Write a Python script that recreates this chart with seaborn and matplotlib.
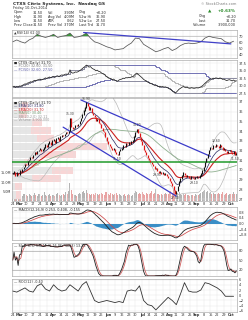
import numpy as np
import pandas as pd
import seaborn as sns
import matplotlib
matplotlib.use("Agg")
import matplotlib.pyplot as plt

# daily closes (24 Feb - 10 Oct)
close = [
    29.6, 29.8, 29.4, 29.7, 29.5, 29.9, 29.8, 30.1, 30.3, 30.6,
    30.5, 30.9, 31.0, 31.3, 31.2, 31.5, 31.8, 31.6, 31.9, 32.0,
    32.2, 31.9, 32.1, 32.3, 32.6, 32.4, 32.7, 32.9, 32.6, 33.0,
    33.1, 32.8, 33.2, 33.3, 33.0, 33.4, 33.6, 33.5, 33.7, 33.9,
    33.8, 34.0, 35.3, 34.4, 34.2, 34.3, 34.6, 34.5, 34.7, 35.0,
    35.3, 35.7, 36.1, 36.4, 36.9, 36.6, 36.2, 36.4, 35.9, 35.6,
    35.4, 35.0, 35.2, 34.8, 34.7, 34.3, 34.0, 33.9, 33.4, 33.0,
    32.7, 32.5, 32.3, 32.0, 32.2, 31.8, 31.6, 31.5, 31.9, 32.1,
    32.2, 32.5, 32.4, 32.7, 32.6, 32.8, 32.7, 32.9, 33.0, 33.4,
    33.9, 34.2, 33.8, 33.4, 33.0, 32.6, 32.1, 31.8, 31.5, 31.2,
    31.0, 30.8, 30.6, 30.4, 30.1, 30.2, 29.9, 29.7, 29.8, 29.6,
    29.7, 29.5, 29.6, 29.4, 29.2, 28.9, 28.7, 28.3, 27.9, 27.5,
    27.8, 28.3, 28.8, 29.1, 29.4, 29.7, 29.5, 29.3, 29.4, 29.2,
    29.1, 29.3, 29.2, 29.1, 29.2, 29.3, 29.2, 29.4, 29.6, 29.9,
    30.3, 30.8, 31.2, 31.6, 32.0, 32.3, 32.2, 32.5, 32.4, 32.6,
    32.5, 32.3, 32.6, 32.4, 32.1, 32.2, 31.9, 31.7, 31.9, 32.0,
    31.8, 31.6, 31.9, 31.5, 31.7,
]

# daily volume, millions
volume = [
    4.1, 3.2, 3.8, 2.9, 3.5, 4.4, 3.1, 2.8, 3.6, 4.0,
    3.3, 2.7, 3.9, 3.0, 2.6, 3.4, 4.2, 3.1, 2.9, 3.5,
    3.8, 2.8, 3.2, 4.6, 3.0, 2.7, 3.3, 3.9, 2.8, 3.1,
    3.4, 2.9, 3.7, 4.5, 3.2, 2.8, 3.0, 3.6, 3.3, 4.8,
    3.9, 5.2, 9.5, 5.8, 3.6, 3.1, 3.4, 2.9, 3.8, 4.1,
    3.5, 4.7, 5.3, 4.2, 6.1, 4.4, 3.8, 3.3, 4.0, 3.6,
    3.2, 4.4, 3.7, 3.1, 3.5, 4.3, 3.9, 3.0, 4.6, 5.0,
    3.8, 3.4, 4.1, 3.6, 3.0, 3.9, 4.4, 3.2, 3.5, 3.1,
    2.8, 3.3, 3.7, 2.9, 3.2, 3.6, 3.0, 2.7, 3.4, 4.2,
    5.1, 4.6, 3.9, 4.3, 3.6, 4.8, 3.7, 3.2, 4.1, 3.5,
    3.9, 4.4, 5.6, 3.8, 4.2, 6.4, 3.6, 4.0, 3.4, 3.9,
    3.1, 3.6, 4.3, 3.5, 4.0, 4.7, 5.2, 4.5, 5.9, 7.2,
    5.3, 4.1, 4.6, 3.8, 3.4, 3.9, 3.2, 3.6, 3.0, 3.3,
    2.9, 3.4, 3.1, 2.7, 3.5, 3.0, 3.2, 3.8, 4.1, 4.6,
    5.4, 6.0, 4.9, 5.1, 4.3, 4.7, 3.9, 4.4, 3.6, 4.0,
    3.7, 4.2, 3.5, 3.9, 4.6, 3.4, 3.8, 4.5, 3.3, 3.6,
    4.0, 3.5, 4.8, 3.7, 3.9,
]

# RSI(14) and ROC(12), read every third session
rsi_line = [
    61, 64, 61, 59, 64, 67, 73, 70, 68, 70,
    73, 68, 70, 71, 75, 68, 69, 71, 75, 67,
    61, 59, 56, 53, 51, 48, 49, 50, 55, 59,
    67, 66, 57, 53, 49, 45, 47, 50, 52, 47,
    50, 55, 58, 59, 58, 59, 61, 67, 70, 68,
    67, 66, 61, 59, 62,
]
roc_line = [
    1.6, 1.2, 2.0, 2.8, 1.6, 1.2, 3.6, 4.4, 2.4, 1.6,
    4.0, 2.4, 1.6, 2.0, 4.0, 2.8, 1.6, 4.0, 5.2, 1.6,
    -2.0, -2.8, -2.4, -2.0, -2.4, -2.8, -2.4, -2.8, 1.6, 2.0,
    1.6, 3.6, -2.0, -3.6, -4.0, -5.6, -4.0, -2.4, -0.8, -2.0,
    -3.6, 0.4, 4.8, 1.6, 1.2, 1.2, 2.0, 4.8, 4.4, 3.6,
    2.8, 1.6, -0.4, -0.4, -0.4,
]

# drawn lines: support level and trendlines (session index, value)
support_level = 30.85
trend_upper = ([50, 145], [37.2, 31.4])
trend_lower = ([37, 120], [34.4, 27.3])
rsi_trend = ([52, 160], [76.0, 57.7])
peak_days = [42, 54, 91, 149]
trough_days = [77, 106, 119, 133, 163]

sns.set_theme(style="white")
plt.rcParams["font.family"] = ["DejaVu Sans"]

n = len(close)
idx = np.arange(n)
dates = pd.bdate_range("2014-02-24", periods=n)
s = pd.Series(close)
opens = np.r_[close[0], close[:-1]]
closes = np.array(close)
up = closes >= opens

ema10 = s.ewm(span=10, adjust=False).mean()
ema20 = s.ewm(span=20, adjust=False).mean()
ma50 = s.rolling(50, min_periods=1).mean()
bb_mid = s.rolling(20, min_periods=5).mean()
bb_sd = s.rolling(20, min_periods=5).std()
macd = s.ewm(span=12, adjust=False).mean() - s.ewm(span=26, adjust=False).mean()
signal = macd.ewm(span=9, adjust=False).mean()
hist = macd - signal
hh = s.rolling(14, min_periods=1).max()
ll = s.rolling(14, min_periods=1).min()
fast_k = (100 * (s - ll) / (hh - ll)).fillna(50)
slow_k = fast_k.rolling(3, min_periods=1).mean()
slow_d = slow_k.rolling(3, min_periods=1).mean()
dc20_hi = s.rolling(20, min_periods=1).max()
dc20_lo = s.rolling(20, min_periods=1).min()
dc50_hi = s.rolling(50, min_periods=1).max()
dc50_lo = s.rolling(50, min_periods=1).min()

W, H = 248, 320
fig = plt.figure(figsize=(W / 100, H / 100), dpi=100)
fig.patch.set_facecolor("white")


def rect(top, bottom, left=12, right=237):
    return [left / W, 1 - bottom / H, (right - left) / W, (bottom - top) / H]


mondays = [i for i, d in enumerate(dates) if d.weekday() == 0]
mlabels = [d.strftime("%b") if d.day <= 7 else str(d.day) for d in dates[mondays]]


def style(ax, xlabels=False):
    ax.set_xlim(-0.5, n - 0.5)
    ax.set_facecolor("white")
    for sp in ax.spines.values():
        sp.set_color("#9a9a9a")
        sp.set_linewidth(0.4)
    ax.yaxis.tick_right()
    ax.tick_params(axis="both", labelsize=2.5, length=0, pad=1, colors="#333333")
    ax.set_xticks(mondays)
    ax.grid(True, color="#e4e4e4", linewidth=0.3)
    ax.set_xlabel("")
    ax.set_ylabel("")
    if xlabels:
        ax.set_xticklabels(mlabels)
        for t, lab in zip(ax.get_xticklabels(), mlabels):
            if not lab.isdigit():
                t.set_fontweight("bold")
    else:
        ax.set_xticklabels([])


def legend_lines(ax, items, step):
    for k, (txt, col) in enumerate(items):
        ax.text(0.008, 0.975 - k * step, txt, transform=ax.transAxes, fontsize=2.4,
                color=col, va="top", ha="left", zorder=10)


# ---- header ----
last, prev = close[-1], close[-2]
chg = last - prev
fig.text(13 / W, 1 - 2 / H, "CTXS Citrix Systems, Inc.  Nasdaq GS", fontsize=3.2,
         fontweight="bold", va="top")
fig.text(236 / W, 1 - 2 / H, "© StockCharts.com", fontsize=2.5, color="#777777",
         va="top", ha="right")
fig.text(13 / W, 1 - 6.5 / H, "Friday 10-Oct-2014", fontsize=2.5, va="top")
rows = [("Open", prev, "Vol", f"{volume[-1]:.2f}M", "Chg", f"{chg:+.2f}"),
        ("High", max(close[-5:]), "Avg Vol", f"{np.mean(volume[-50:]):.2f}M", "52w Hi", f"{max(close):.2f}"),
        ("Low", min(close[-5:]), "ATR", "0.62", "52w Lo", f"{min(close):.2f}"),
        ("Prev Close", prev, "Prev Vol", f"{volume[-2]:.2f}M", "Last Trd", f"{last:.2f}")]
for r, (a, av, b, bv, c, cv) in enumerate(rows):
    y = 1 - (10.5 + r * 4.2) / H
    fig.text(14 / W, y, a, fontsize=2.5, va="top")
    fig.text(43 / W, y, f"{av:.2f}", fontsize=2.5, va="top", ha="right")
    fig.text(48 / W, y, b, fontsize=2.5, va="top")
    fig.text(75 / W, y, bv, fontsize=2.5, va="top", ha="right")
    fig.text(79 / W, y, c, fontsize=2.5, va="top")
    fig.text(106 / W, y, cv, fontsize=2.5, va="top", ha="right")
fig.text(208 / W, 1 - 9.5 / H, "▲", fontsize=3.2, color="#2a8a2a", va="top")
fig.text(236 / W, 1 - 9.5 / H, f"{100 * chg / prev:+.2f}%", fontsize=3.0,
         fontweight="bold", color="#2a8a2a", va="top", ha="right")
for r, (a, v) in enumerate([("Chg", f"{chg:+.2f}"), ("Last", f"{last:.2f}"),
                            ("Volume", f"{volume[-1] * 1e6:,.0f}")]):
    y = 1 - (14.5 + r * 4.2) / H
    fig.text(206 / W, y, a, fontsize=2.5, va="top", ha="right")
    fig.text(236 / W, y, v, fontsize=2.5, va="top", ha="right")

# ---- RSI panel ----
ax1 = fig.add_axes(rect(30, 58))
rsi_days = idx[::3][:len(rsi_line)]
rsi_arr = np.array(rsi_line, dtype=float)
ax1.fill_between(rsi_days, rsi_arr, 70, where=rsi_arr > 70, interpolate=True,
                 color="#3a9a3a", linewidth=0)
ax1.axhline(70, color="#aaaaaa", linewidth=0.4)
sns.lineplot(x=rsi_days, y=rsi_arr, ax=ax1, color="#555555", linewidth=0.55)
sns.lineplot(x=rsi_trend[0], y=rsi_trend[1], ax=ax1, color="#4040c8", linewidth=0.9)
ax1.set_ylim(35, 80)
ax1.set_yticks([40, 50, 60, 70])
style(ax1)
legend_lines(ax1, [(f"▲RSI(14) {rsi_line[-1]:.2f}", "#333333")], 0.1)

# ---- price channel panel ----
ax2 = fig.add_axes(rect(60, 97))
sns.lineplot(x=idx, y=dc50_hi, ax=ax2, color="#5c5ca8", linewidth=0.6, drawstyle="steps-post")
sns.lineplot(x=idx, y=dc50_lo, ax=ax2, color="#5c5ca8", linewidth=0.6, drawstyle="steps-post")
sns.lineplot(x=idx, y=dc20_hi, ax=ax2, color="#9a9a9a", linewidth=0.5, drawstyle="steps-post")
sns.lineplot(x=idx, y=dc20_lo, ax=ax2, color="#9a9a9a", linewidth=0.5, drawstyle="steps-post")
sns.lineplot(x=idx, y=s, ax=ax2, color="#222222", linewidth=0.55)
ax2.set_ylim(26.2, 38.6)
ax2.set_yticks([27.5, 30.0, 32.5, 35.0, 37.5])
ax2.set_yticklabels(["27.5", "30.0", "32.5", "35.0", "37.5"])
style(ax2)
legend_lines(ax2, [(f"■ CTXS (Daily) {last:.2f}", "#222222"),
                   (f"— PC(20) {dc20_hi.iloc[-1]:.2f}, {dc20_lo.iloc[-1]:.2f}", "#777777"),
                   (f"— PC(50) {dc50_hi.iloc[-1]:.2f}, {dc50_lo.iloc[-1]:.2f}", "#5c5ca8")], 0.09)

# ---- main price panel with volume ----
main_rect = rect(98, 201)
axv = fig.add_axes(main_rect)
vol_cols = np.where(up, "#b4b4b4", "#e9a3a3")
axv.bar(idx, volume, width=0.75, color=vol_cols, linewidth=0)
axv.set_ylim(0, 55)
axv.set_xlim(-0.5, n - 0.5)
axv.set_yticks([5, 10, 15])
axv.set_yticklabels(["5.0M", "10.0M", "15.0M"])
axv.tick_params(axis="y", labelsize=2.4, length=0, pad=0.5, colors="#333333")
axv.set_xticks([])
axv.set_xticklabels([])
for sp in axv.spines.values():
    sp.set_visible(False)
axv.set_facecolor("white")

ax = fig.add_axes(main_rect)
ax.set_zorder(axv.get_zorder() + 1)

# volume by price, split into up / down volume
edges = np.linspace(27.0, 37.0, 13)
vol_arr = np.array(volume)
up_v, _ = np.histogram(closes[up], bins=edges, weights=vol_arr[up])
dn_v, _ = np.histogram(closes[~up], bins=edges, weights=vol_arr[~up])
scale = 70 / (up_v + dn_v).max()
centers = (edges[:-1] + edges[1:]) / 2
bh = (edges[1] - edges[0]) * 0.88
ax.barh(centers, up_v * scale, left=-0.5, height=bh, color="#e6e6e6", linewidth=0, zorder=0)
ax.barh(centers, dn_v * scale, left=-0.5 + up_v * scale, height=bh, color="#f8d6d6",
        linewidth=0, zorder=0)

sns.lineplot(x=idx, y=bb_mid + 2 * bb_sd, ax=ax, color="#b9b9b9", linewidth=0.5)
sns.lineplot(x=idx, y=bb_mid - 2 * bb_sd, ax=ax, color="#b9b9b9", linewidth=0.5)
sns.lineplot(x=idx, y=ma50, ax=ax, color="#8fb08f", linewidth=0.6)
sns.lineplot(x=idx, y=ema20, ax=ax, color="#cc1f1f", linewidth=0.8)
sns.lineplot(x=idx, y=ema10, ax=ax, color="#26265e", linewidth=0.5)
ax.axhline(support_level, color="#1f9a2a", linewidth=1.1, zorder=3)
sns.lineplot(x=trend_upper[0], y=trend_upper[1], ax=ax, color="#3b3bc9", linewidth=0.9)
sns.lineplot(x=trend_lower[0], y=trend_lower[1], ax=ax, color="#3b3bc9", linewidth=0.9)
ax.vlines(idx[up], opens[up], closes[up] + 0.04, color="#111111", linewidth=0.8, zorder=4)
ax.vlines(idx[~up], opens[~up], closes[~up], color="#dd1515", linewidth=0.9, zorder=4)
for d in peak_days:
    ax.annotate(f"{close[d]:.2f}", (d, close[d]), xytext=(0, 1.5), textcoords="offset points",
                ha="center", va="bottom", fontsize=2.2, color="#333333", zorder=6)
for d in trough_days:
    ax.annotate(f"{close[d]:.2f}", (d, close[d]), xytext=(0, -1.5), textcoords="offset points",
                ha="center", va="top", fontsize=2.2, color="#333333", zorder=6)
ax.set_ylim(26.8, 37.4)
ax.set_yticks(np.arange(27, 38, 1))
style(ax, xlabels=True)
ax.patch.set_visible(False)
legend_lines(ax, [(f"■ CTXS (Daily) {last:.2f}", "#222222"),
                  (f"— EMA(10) {ema10.iloc[-1]:.2f}", "#26265e"),
                  (f"— EMA(20) {ema20.iloc[-1]:.2f}", "#cc1f1f"),
                  (f"— MA(50) {ma50.iloc[-1]:.2f}", "#6f9a6f"),
                  (f"— BB(20,2.0) {bb_mid.iloc[-1]:.2f}", "#999999"),
                  (f"— Volume {volume[-1] * 1e6:,.0f}", "#999999")], 0.034)

# ---- MACD ----
ax3 = fig.add_axes(rect(207, 240))
ax3.fill_between(idx, hist, 0, color="#3a8ec6", linewidth=0)
sns.lineplot(x=idx, y=signal, ax=ax3, color="#d04848", linewidth=0.55)
sns.lineplot(x=idx, y=macd, ax=ax3, color="#222222", linewidth=0.6)
lim = float(np.abs(macd).max()) * 1.15
ax3.set_ylim(-lim, lim)
ax3.yaxis.set_major_locator(matplotlib.ticker.MaxNLocator(6))
style(ax3)
legend_lines(ax3, [(f"— MACD(12,26,9) {macd.iloc[-1]:.3f}, {signal.iloc[-1]:.3f}, "
                    f"{hist.iloc[-1]:.3f}", "#222222")], 0.1)

# ---- slow stochastic ----
ax4 = fig.add_axes(rect(243, 276))
ax4.axhline(80, color="#9a9a9a", linewidth=0.4)
ax4.axhline(20, color="#9a9a9a", linewidth=0.4)
sns.lineplot(x=idx, y=slow_d, ax=ax4, color="#d06060", linewidth=0.6)
sns.lineplot(x=idx, y=slow_k, ax=ax4, color="#222222", linewidth=0.6)
ax4.set_ylim(0, 104)
ax4.set_yticks([20, 50, 80])
style(ax4)
legend_lines(ax4, [(f"— Slow STO %K(14,3) {slow_k.iloc[-1]:.2f}, %D(3) {slow_d.iloc[-1]:.2f}",
                    "#222222")], 0.1)

# ---- ROC ----
ax5 = fig.add_axes(rect(279, 312))
roc_days = idx[::3][:len(roc_line)]
sns.lineplot(x=roc_days, y=roc_line, ax=ax5, color="#333333", linewidth=0.6)
ax5.set_ylim(-6.4, 6.2)
ax5.set_yticks([-6, -4, -2, 0, 2, 4, 6])
style(ax5, xlabels=True)
legend_lines(ax5, [(f"— ROC(12) {roc_line[-1]:.2f}", "#333333")], 0.1)

fig.savefig("out.png", dpi=100)
